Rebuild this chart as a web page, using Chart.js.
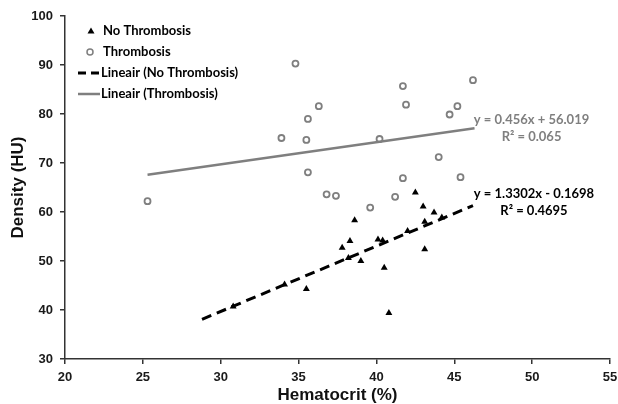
<!DOCTYPE html>
<html>
<head>
<meta charset="utf-8">
<script src="https://cdn.jsdelivr.net/npm/chart.js@4.4.1/dist/chart.umd.min.js"></script>
<style>
  html, body { margin: 0; padding: 0; background: #fff; }
  .wrap { width: 618px; height: 404px; position: relative; }
</style>
</head>
<body>
<div class="wrap"><canvas id="scatterChart"></canvas></div>
<script>
// hematocrit (%) / density (HU) - no thrombosis
const noThrombHct = [42.5, 43.0, 43.7, 44.2, 43.1, 42.0, 38.6, 38.3, 37.8, 40.1, 40.4, 38.2, 39.0, 43.1, 40.5, 40.8, 35.5, 34.1, 30.8];
const noThrombHu = [64.0, 61.1, 59.9, 58.9, 58.0, 56.1, 58.3, 54.1, 52.7, 54.4, 54.2, 50.6, 50.0, 52.4, 48.6, 39.4, 44.3, 45.2, 40.7];

// thrombosis
const thrombHct = [25.3, 34.8, 36.3, 35.6, 33.9, 35.5, 35.6, 36.8, 37.4, 41.7, 46.2, 41.9, 45.2, 44.7, 40.2, 44.0, 41.7, 45.4, 41.2, 39.6];
const thrombHu = [62.2, 90.3, 81.6, 79.0, 75.1, 74.7, 68.1, 63.6, 63.3, 85.7, 86.9, 81.9, 81.6, 79.9, 74.9, 71.2, 66.9, 67.1, 63.1, 60.9];

// trendline ends
const fitNoHct = [28.8, 46.2];
const fitNoHu = [38.1, 61.3];
const fitHct = [25.3, 46.3];
const fitHu = [67.6, 77.1];

const seriesLabels = ["No Thrombosis", "Thrombosis", "Lineair (No Thrombosis)", "Lineair (Thrombosis)"];
const eqNo = ["y = 1.3302x - 0.1698", "R\u00b2 = 0.4695"];
const eqThromb = ["y = 0.456x + 56.019", "R\u00b2 = 0.065"];

const xTicks = [20, 55, 5];
const yTicks = [30, 100, 10];

(function () {
  const GRAY = "#7f7f7f";
  const toPoints = (xs, ys) => xs.map((x, i) => ({ x: x, y: ys[i] }));
  const calibriish = "Lato, 'Open Sans', sans-serif";

  // legend + equations drawn on the canvas
  const extrasPlugin = {
    id: "extras",
    afterDraw(chart) {
      const ctx = chart.ctx;
      const xs = chart.scales.x;
      const ys = chart.scales.y;
      ctx.save();
      ctx.font = "bold 13px " + calibriish;
      ctx.textBaseline = "middle";
      ctx.textAlign = "left";

      // legend
      const rows = [31, 52, 73, 94];
      // triangle
      ctx.fillStyle = "#000";
      ctx.beginPath();
      ctx.moveTo(91, rows[0] - 3.5);
      ctx.lineTo(94.5, rows[0] + 2.5);
      ctx.lineTo(87.5, rows[0] + 2.5);
      ctx.closePath();
      ctx.fill();
      ctx.fillText(seriesLabels[0], 103, rows[0]);
      // circle
      ctx.strokeStyle = GRAY;
      ctx.lineWidth = 1.5;
      ctx.beginPath();
      ctx.arc(90, rows[1], 3, 0, Math.PI * 2);
      ctx.stroke();
      ctx.fillText(seriesLabels[1], 103, rows[1]);
      // dashed
      ctx.strokeStyle = "#000";
      ctx.lineWidth = 3;
      ctx.setLineDash([8, 5]);
      ctx.beginPath();
      ctx.moveTo(78, rows[2]);
      ctx.lineTo(100, rows[2]);
      ctx.stroke();
      ctx.setLineDash([]);
      ctx.fillText(seriesLabels[2], 101, rows[2]);
      // solid
      ctx.strokeStyle = GRAY;
      ctx.lineWidth = 2.5;
      ctx.beginPath();
      ctx.moveTo(78, rows[3]);
      ctx.lineTo(100, rows[3]);
      ctx.stroke();
      ctx.fillText(seriesLabels[3], 101, rows[3]);

      // equations, next to the trendline ends
      ctx.textAlign = "center";
      const gx = xs.getPixelForValue(fitHct[1]) + 57;
      const gy = ys.getPixelForValue(fitHu[1]);
      ctx.fillStyle = GRAY;
      ctx.fillText(eqThromb[0], gx, gy - 8);
      ctx.fillText(eqThromb[1], gx, gy + 9);
      const bx = xs.getPixelForValue(fitNoHct[1]) + 61;
      const by = ys.getPixelForValue(fitNoHu[1]);
      ctx.fillStyle = "#000";
      ctx.fillText(eqNo[0], bx, by - 12);
      ctx.fillText(eqNo[1], bx, by + 5);
      ctx.restore();
    },
  };

  new Chart(document.querySelector("#scatterChart"), {
    type: "scatter",
    data: {
      datasets: [
        {
          label: seriesLabels[0],
          data: toPoints(noThrombHct, noThrombHu),
          pointStyle: "triangle",
          pointRadius: 4,
          backgroundColor: "#000",
          borderColor: "#000",
          borderWidth: 0,
        },
        {
          label: seriesLabels[1],
          data: toPoints(thrombHct, thrombHu),
          pointStyle: "circle",
          pointRadius: 3,
          backgroundColor: "rgba(0,0,0,0)",
          borderColor: GRAY,
          borderWidth: 1.8,
        },
        {
          type: "line",
          label: seriesLabels[2],
          data: toPoints(fitNoHct, fitNoHu),
          borderColor: "#000",
          borderWidth: 3,
          borderDash: [10, 6],
          pointRadius: 0,
          fill: false,
        },
        {
          type: "line",
          label: seriesLabels[3],
          data: toPoints(fitHct, fitHu),
          borderColor: GRAY,
          borderWidth: 2.5,
          pointRadius: 0,
          fill: false,
        },
      ],
    },
    options: {
      responsive: true,
      maintainAspectRatio: false,
      animation: false,
      layout: { padding: { left: 0, right: 0, top: 16, bottom: 0 } },
      plugins: {
        legend: { display: false },
        tooltip: { enabled: false },
      },
      scales: {
        x: {
          type: "linear",
          min: xTicks[0],
          max: xTicks[1],
          ticks: {
            stepSize: xTicks[2],
            color: "#1a1a1a",
            padding: 6,
            font: { family: "'Liberation Sans', Arial, sans-serif", size: 13, weight: "bold" },
          },
          grid: { drawOnChartArea: false, drawTicks: true, tickLength: 5, color: "#333", lineWidth: 1.5 },
          border: { display: true, color: "#333", width: 1.5 },
          title: {
            display: true,
            text: "Hematocrit (%)",
            color: "#111",
            padding: { top: 0, bottom: 0 },
            font: { family: "'Liberation Sans', Arial, sans-serif", size: 17, weight: "bold", lineHeight: 1 },
          },
          afterFit(scale) {
            scale.height = 45;
            // keep the last label close to the edge like the original
            scale.paddingRight = 8;
            scale.paddingLeft = 0;
          },
        },
        y: {
          type: "linear",
          min: yTicks[0],
          max: yTicks[1],
          ticks: {
            stepSize: yTicks[2],
            color: "#1a1a1a",
            padding: 7,
            font: { family: "'Liberation Sans', Arial, sans-serif", size: 13, weight: "bold" },
          },
          grid: { drawOnChartArea: false, drawTicks: true, tickLength: 5, color: "#333", lineWidth: 1.5 },
          border: { display: true, color: "#333", width: 1.5 },
          title: {
            display: true,
            text: "Density (HU)",
            color: "#111",
            padding: { top: 10, bottom: 0 },
            font: { family: "'Liberation Sans', Arial, sans-serif", size: 17, weight: "bold", lineHeight: 1 },
          },
          afterFit(scale) {
            scale.width = 65;
            scale.paddingTop = 0;
          },
        },
      },
    },
    plugins: [extrasPlugin],
  });
})();
</script>
</body>
</html>
